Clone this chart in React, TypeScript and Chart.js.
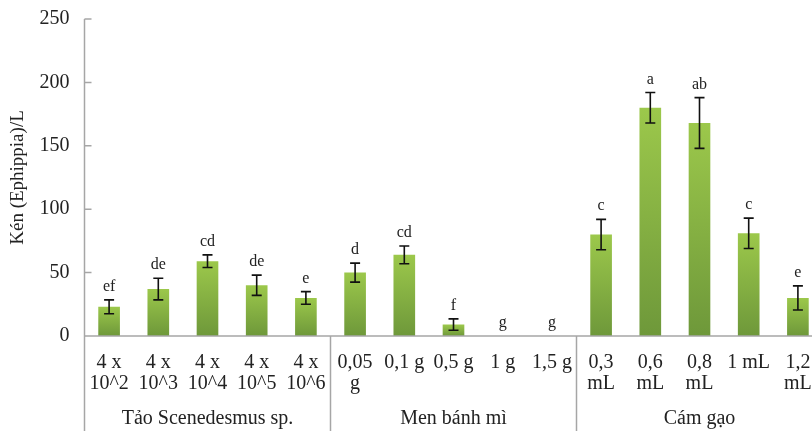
import React, { useEffect, useRef } from "react";
import { Chart, registerables } from "chart.js";
Chart.register(...registerables);

const categories: (string | string[])[] = [
  ["4 x", "10^2"], ["4 x", "10^3"], ["4 x", "10^4"], ["4 x", "10^5"], ["4 x", "10^6"],
  ["0,05", "g"], "0,1 g", "0,5 g", "1 g", "1,5 g",
  ["0,3", "mL"], ["0,6", "mL"], ["0,8", "mL"], "1 mL", ["1,2", "mL"],
];
const values = [23, 37, 59, 40, 30, 50, 64, 9, 0, 0, 80, 180, 168, 81, 30];
const errors = [5.5, 8.5, 5, 8, 5, 7.5, 7, 4.5, 0, 0, 12, 12, 20, 12, 9.5];
const letters = ["ef", "de", "cd", "de", "e", "d", "cd", "f", "g", "g", "c", "a", "ab", "c", "e"];
const groups = ["Tảo Scenedesmus sp.", "Men bánh mì", "Cám gạo"];
const groupSizes = [5, 5, 5];
const yTicks = [0, 50, 100, 150, 200, 250];

const FONT = "'Liberation Serif', 'DejaVu Serif', serif";
const AXIS = "#a6a6a6";

const overlay = {
  id: "overlay",
  afterDraw(chart: any) {
    const { ctx, chartArea, scales } = chart;
    const x = scales.x;
    const y = scales.y;
    const W = chart.width;
    const H = chart.height;
    ctx.save();
    ctx.strokeStyle = AXIS;
    ctx.lineWidth = 1.5;
    const x0 = chartArea.left;
    const y0 = y.getPixelForValue(0);
    ctx.beginPath();
    ctx.moveTo(x0, y.getPixelForValue(250));
    ctx.lineTo(x0, H);
    ctx.moveTo(x0, y0);
    ctx.lineTo(W, y0);
    yTicks.forEach((t) => {
      const py = y.getPixelForValue(t);
      ctx.moveTo(x0, py);
      ctx.lineTo(x0 + 7, py);
    });
    const step = (chartArea.right - chartArea.left) / categories.length;
    let idx = 0;
    const groupBounds: [number, number][] = [];
    groupSizes.forEach((n) => {
      const a = x0 + idx * step;
      idx += n;
      const b = x0 + idx * step;
      groupBounds.push([a, b]);
      ctx.moveTo(b, y0);
      ctx.lineTo(b, H);
    });
    ctx.stroke();

    ctx.strokeStyle = "#111";
    ctx.lineWidth = 1.6;
    ctx.fillStyle = "#222";
    ctx.font = `16px ${FONT}`;
    ctx.textAlign = "center";
    ctx.textBaseline = "alphabetic";
    values.forEach((v, i) => {
      const cx = x.getPixelForValue(i);
      const e = errors[i];
      const top = y.getPixelForValue(v + e);
      const bot = y.getPixelForValue(v - e);
      if (e > 0) {
        ctx.beginPath();
        ctx.moveTo(cx, top);
        ctx.lineTo(cx, bot);
        ctx.moveTo(cx - 5, top);
        ctx.lineTo(cx + 5, top);
        ctx.moveTo(cx - 5, bot);
        ctx.lineTo(cx + 5, bot);
        ctx.stroke();
      }
      ctx.fillText(letters[i], cx, top - 9);
    });

    ctx.font = `20px ${FONT}`;
    ctx.textBaseline = "middle";
    groups.forEach((g, i) => {
      const [a, b] = groupBounds[i];
      ctx.fillText(g, (a + b) / 2, 419);
    });
    ctx.restore();
  },
};

export default function App() {
  const ref = useRef<HTMLCanvasElement>(null);
  useEffect(() => {
    if (!ref.current) return;
    const chart = new Chart(ref.current, {
      type: "bar",
      data: {
        labels: categories as any,
        datasets: [
          {
            data: values,
            categoryPercentage: 1,
            barPercentage: 0.44,
            borderWidth: 0,
            backgroundColor: (c: any) => {
              const ch = c.chart;
              const ys = ch.scales?.y;
              if (!ys || !ch.chartArea) return "#86b342";
              const v = values[c.dataIndex] ?? 0;
              const t = ys.getPixelForValue(v);
              const b = ys.getPixelForValue(0);
              if (!isFinite(t) || !isFinite(b) || t === b) return "#86b342";
              const g = ch.ctx.createLinearGradient(0, t, 0, b);
              g.addColorStop(0, "#9cc84b");
              g.addColorStop(1, "#6e983a");
              return g;
            },
          },
        ],
      },
      options: {
        responsive: false,
        animation: false,
        layout: { padding: { top: 0, right: 7.5, left: 0, bottom: 0 } },
        plugins: { legend: { display: false }, tooltip: { enabled: false } },
        scales: {
          x: {
            grid: { display: false, drawTicks: false },
            border: { display: false },
            ticks: {
              autoSkip: false,
              maxRotation: 0,
              minRotation: 0,
              padding: 17,
              color: "#222",
              font: { family: FONT, size: 20, lineHeight: 1.02 },
            },
            afterFit: (s: any) => {
              s.height = 95;
            },
          },
          y: {
            min: 0,
            max: 250,
            grid: { display: false, drawTicks: false },
            border: { display: false },
            ticks: {
              stepSize: 50,
              padding: 15,
              color: "#222",
              font: { family: FONT, size: 20 },
            },
            title: {
              display: true,
              text: "Kén (Ephippia)/L",
              color: "#222",
              font: { family: FONT, size: 19 },
              padding: { top: 7, bottom: 0 },
            },
            afterFit: (s: any) => {
              s.width = 84.5;
              s.paddingTop = 19;
              s.paddingBottom = 0;
            },
          },
        },
      },
      plugins: [overlay],
    });
    return () => chart.destroy();
  }, []);
  return (
    <div style={{ position: "fixed", left: 0, top: 0, width: 812, height: 431, overflow: "hidden", background: "#fff" }}>
      <canvas ref={ref} width={830} height={431} style={{ width: 830, height: 431, display: "block" }} />
    </div>
  );
}
